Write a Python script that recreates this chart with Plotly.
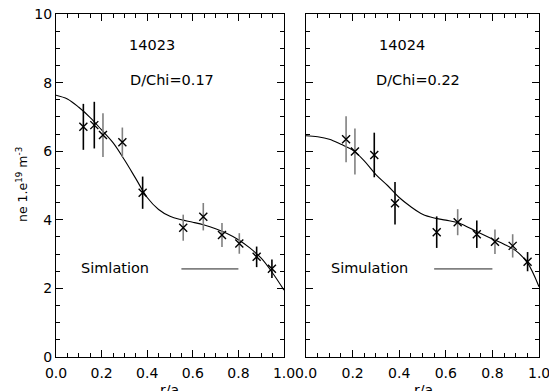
import plotly.graph_objects as go

# ---------------- data ----------------
# Shot 14023 (left panel)
r_14023 = [0.120, 0.168, 0.206, 0.291, 0.380, 0.558, 0.646, 0.728, 0.804, 0.880, 0.947]
ne_14023 = [6.71, 6.76, 6.47, 6.26, 4.79, 3.77, 4.09, 3.56, 3.31, 2.92, 2.57]
err_14023 = [0.67, 0.68, 0.64, 0.43, 0.47, 0.38, 0.40, 0.35, 0.30, 0.30, 0.27]
errcol_14023 = ["k", "k", "g", "g", "k", "g", "g", "g", "g", "k", "k"]

# Shot 14024 (right panel)
r_14024 = [0.172, 0.210, 0.293, 0.382, 0.561, 0.651, 0.733, 0.811, 0.887, 0.951]
ne_14024 = [6.35, 5.99, 5.89, 4.48, 3.64, 3.93, 3.58, 3.36, 3.24, 2.78]
err_14024 = [0.67, 0.67, 0.65, 0.62, 0.46, 0.38, 0.40, 0.36, 0.34, 0.28]
errcol_14024 = ["g", "g", "k", "k", "k", "g", "k", "g", "g", "k"]

# Simulation curves
r_sim = [0.0, 0.05, 0.1, 0.15, 0.2, 0.25, 0.3, 0.35, 0.4, 0.45, 0.5,
         0.55, 0.6, 0.65, 0.7, 0.75, 0.8, 0.85, 0.9, 0.95, 1.0]
sim_14023 = [7.63, 7.52, 7.28, 6.98, 6.62, 6.25, 5.75, 5.2, 4.65, 4.3, 4.1,
             4.0, 3.93, 3.85, 3.74, 3.6, 3.42, 3.18, 2.88, 2.45, 1.95]
sim_14024 = [6.45, 6.42, 6.35, 6.2, 6.03, 5.72, 5.32, 5.0, 4.65, 4.38, 4.16,
             4.05, 3.99, 3.92, 3.77, 3.6, 3.44, 3.29, 3.1, 2.75, 2.05]

# legend sample line
legend_r = [0.55, 0.80]
legend_ne = [2.57, 2.57]

x_ticks = [0.0, 0.2, 0.4, 0.6, 0.8, 1.0]
x_ticklabels = ["0.0", "0.2", "0.4", "0.6", "0.8", "1.0"]
y_ticks = [0, 2, 4, 6, 8, 10]
y_ticklabels = ["0", "2", "4", "6", "8", "10"]

# ---------------- figure ----------------
W, H = 549, 391
FONT = "DejaVu Sans"
BLACK = "#000000"
GRAY = "#808080"

fig = go.Figure()

panels = [
    ("x", "y", r_14023, ne_14023, err_14023, errcol_14023, sim_14023),
    ("x2", "y2", r_14024, ne_14024, err_14024, errcol_14024, sim_14024),
]

for xa, ya, rr, nn, ee, cc, sim in panels:
    fig.add_trace(go.Scatter(x=r_sim, y=sim, mode="lines", xaxis=xa, yaxis=ya,
                             line=dict(color=BLACK, width=1.1, shape="spline"),
                             showlegend=False, hoverinfo="skip"))
    for key, col in (("k", BLACK), ("g", GRAY)):
        xs = [r for r, c in zip(rr, cc) if c == key]
        ys = [n for n, c in zip(nn, cc) if c == key]
        es = [e for e, c in zip(ee, cc) if c == key]
        fig.add_trace(go.Scatter(x=xs, y=ys, mode="markers", xaxis=xa, yaxis=ya,
                                 marker=dict(size=1, color="rgba(0,0,0,0)"),
                                 error_y=dict(type="data", array=es, visible=True,
                                              color=col, thickness=1.6, width=0),
                                 showlegend=False, hoverinfo="skip"))
    fig.add_trace(go.Scatter(x=rr, y=nn, mode="markers", xaxis=xa, yaxis=ya,
                             marker=dict(symbol="x-thin-open", size=8, color=BLACK,
                                         line=dict(color=BLACK, width=1.4)),
                             showlegend=False))
    fig.add_trace(go.Scatter(x=legend_r, y=legend_ne, mode="lines", xaxis=xa, yaxis=ya,
                             line=dict(color=GRAY, width=1.6),
                             showlegend=False, hoverinfo="skip"))

ydom = [(H - 357) / H, (H - 14) / H]
TICKLABEL_Y = 373  # pixel row of x tick-label centres

common_x = dict(range=[0, 1], tickmode="array", tickvals=x_ticks, ticktext=x_ticklabels,
                ticks="inside", ticklen=7, tickwidth=1, tickcolor=BLACK,
                showline=True, linecolor=BLACK, linewidth=1, mirror="ticks",
                showgrid=False, zeroline=False, automargin=False,
                ticklabelstandoff=3, ticklabeloverflow="allow",
                minor=dict(ticks="inside", dtick=0.05, ticklen=4, tickcolor=BLACK, showgrid=False),
                tickfont=dict(family=FONT, size=14, color=BLACK))
common_y = dict(range=[0, 10], tickmode="array", tickvals=y_ticks, ticktext=y_ticklabels,
                ticks="inside", ticklen=7, tickwidth=1, tickcolor=BLACK,
                showline=True, linecolor=BLACK, linewidth=1, mirror="ticks",
                showgrid=False, zeroline=False, automargin=False, domain=ydom,
                ticklabeloverflow="allow",
                minor=dict(ticks="inside", dtick=0.5, ticklen=4, tickcolor=BLACK, showgrid=False),
                tickfont=dict(family=FONT, size=14, color=BLACK))

# right panel: last label (which plotly hides at the page edge) is drawn as an annotation
x2_ticktext = x_ticklabels[:-1] + [""]

fig.update_layout(
    width=W, height=H,
    margin=dict(l=0, r=0, t=0, b=0, autoexpand=False),
    paper_bgcolor="white", plot_bgcolor="white",
    showlegend=False,
    font=dict(family=FONT, size=14, color=BLACK),
    xaxis=dict(common_x, domain=[56 / W, 284 / W], anchor="y"),
    xaxis2=dict(common_x, domain=[306 / W, 539 / W], anchor="y2", ticktext=x2_ticktext),
    yaxis=dict(common_y, anchor="x"),
    yaxis2=dict(common_y, anchor="x2", showticklabels=False),
)

fig.add_annotation(text=x_ticklabels[-1], x=x_ticks[-1], xref="x2",
                   y=(H - TICKLABEL_Y) / H, yref="paper", showarrow=False,
                   xanchor="center", yanchor="middle",
                   font=dict(family=FONT, size=14, color=BLACK))

annotations = [
    dict(text="14023", x=0.311, y=9.1, xref="x", yref="y"),
    dict(text="D/Chi=0.17", x=0.316, y=8.08, xref="x", yref="y"),
    dict(text="Simlation", x=0.10, y=2.6, xref="x", yref="y"),
    dict(text="14024", x=0.305, y=9.1, xref="x2", yref="y2"),
    dict(text="D/Chi=0.22", x=0.292, y=8.08, xref="x2", yref="y2"),
    dict(text="Simulation", x=0.099, y=2.6, xref="x2", yref="y2"),
]
for a in annotations:
    fig.add_annotation(a, showarrow=False, xanchor="left", yanchor="middle",
                       font=dict(family=FONT, size=14.5, color=BLACK))

fig.add_annotation(text="ne 1.e<sup>19</sup> m<sup>-3</sup>", x=22 / W, y=(H - 185) / H,
                   xref="paper", yref="paper", showarrow=False, textangle=-90,
                   xanchor="center", yanchor="middle",
                   font=dict(family=FONT, size=12.5, color=BLACK))
for xc in (170, 423):
    fig.add_annotation(text="r/a", x=xc / W, y=(H - 380) / H, xref="paper", yref="paper",
                       showarrow=False, xanchor="center", yanchor="top",
                       font=dict(family=FONT, size=14, color=BLACK))

fig.write_html("out.html")
